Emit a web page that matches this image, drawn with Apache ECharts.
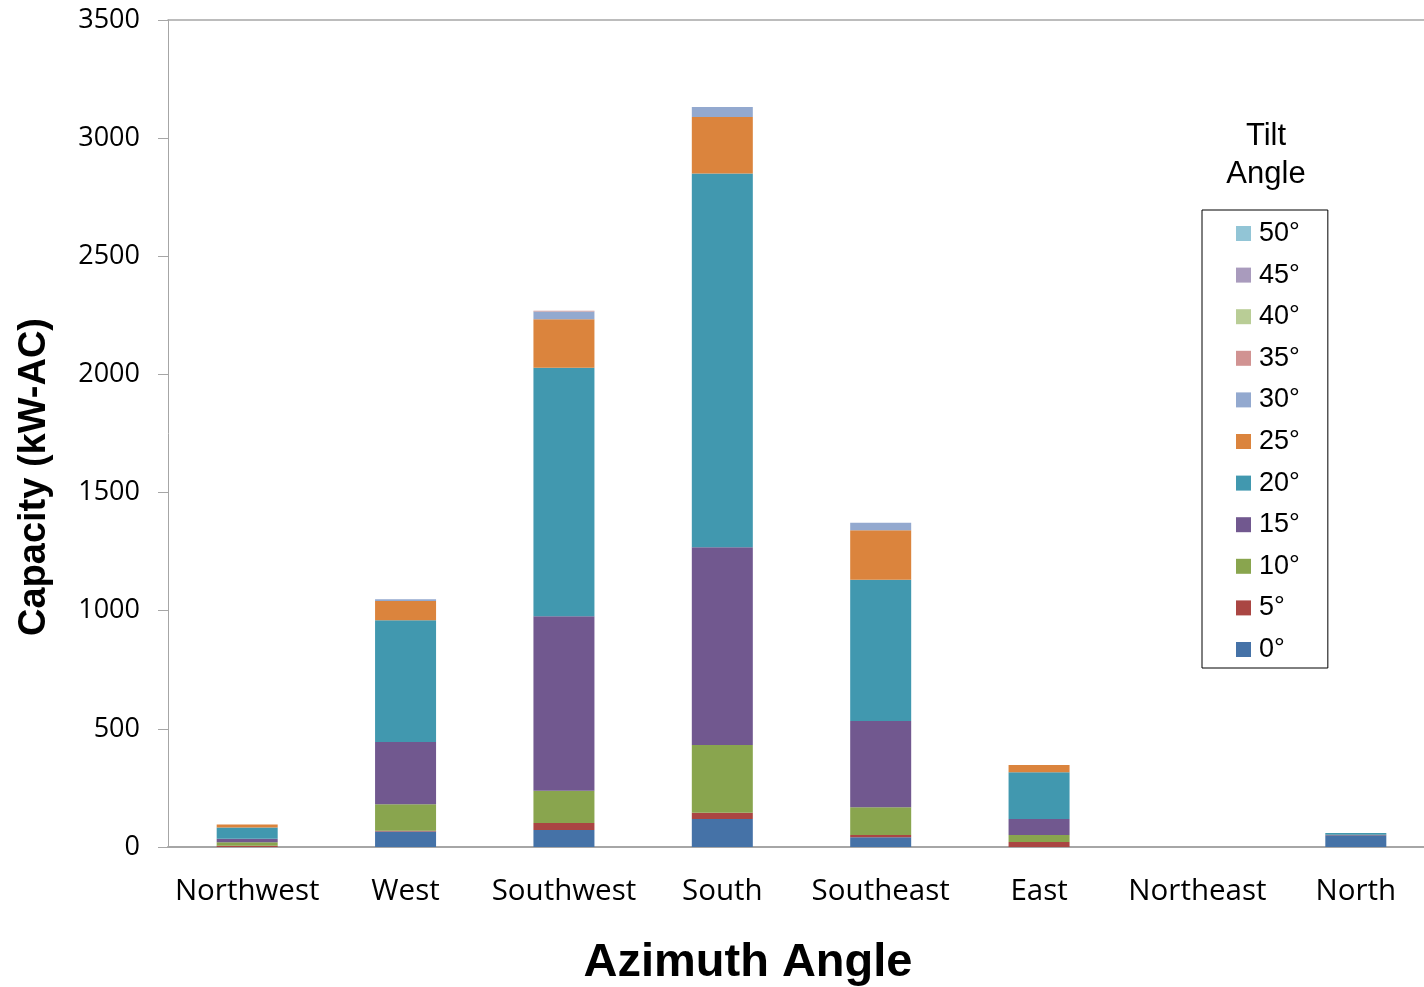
<!DOCTYPE html>
<html>
<head>
<meta charset="utf-8">
<title>Capacity by Azimuth and Tilt Angle</title>
<script src="https://cdn.jsdelivr.net/npm/echarts@6/dist/echarts.min.js"></script>
<style>
  html, body { margin: 0; padding: 0; background: #ffffff; overflow: hidden; }
  /* plot area runs slightly past the right edge of the window */
  #chart { width: 1435px; height: 987px; }
</style>
</head>
<body>
<div id="chart"></div>
<script>
// Azimuth categories along the x axis
const azimuths = ['Northwest', 'West', 'Southwest', 'South', 'Southeast', 'East', 'Northeast', 'North'];

// Capacity (kW-AC) per tilt angle, one value per azimuth
const tilt0  = [0, 66, 72, 118, 41, 0, 0, 50];
const tilt5  = [5, 3, 30, 27, 10, 21, 0, 2];
const tilt10 = [15, 112, 136, 287, 117, 30, 0, 0];
const tilt15 = [15, 263, 739, 837, 365, 67, 0, 0];
const tilt20 = [47, 516, 1051, 1581, 598, 198, 0, 7];
const tilt25 = [13, 81, 205, 239, 210, 31, 0, 0];
const tilt30 = [0, 8, 33, 43, 31, 0, 0, 0];
const tilt35 = [0, 0, 3, 0, 0, 0, 0, 0];
const tilt40 = [0, 0, 0, 0, 0, 0, 0, 0];
const tilt45 = [0, 0, 0, 0, 0, 0, 0, 0];
const tilt50 = [0, 0, 0, 0, 0, 0, 0, 0];

const tiltNames = ['0°', '5°', '10°', '15°', '20°', '25°', '30°', '35°', '40°', '45°', '50°'];
const tiltValues = [tilt0, tilt5, tilt10, tilt15, tilt20, tilt25, tilt30, tilt35, tilt40, tilt45, tilt50];
const tiltColors = ['#4572A7', '#AA4643', '#89A54E', '#71588F', '#4198AF', '#DB843D',
                    '#93A9CF', '#D19392', '#B9CD96', '#A99BBD', '#92C5D6'];

const yTicks = [0, 500, 1000, 1500, 2000, 2500, 3000, 3500];

const series = tiltNames.map((name, i) => ({
  name: name,
  type: 'bar',
  stack: 'capacity',
  barWidth: 61,
  data: tiltValues[i],
  itemStyle: { color: tiltColors[i] },
  emphasis: { disabled: true }
}));

const chart = echarts.init(document.getElementById('chart'), null, { renderer: 'canvas' });

chart.setOption({
  animation: false,
  backgroundColor: '#ffffff',
  grid: { left: 168, right: 0, top: 20, bottom: 140, containLabel: false },
  xAxis: [
    {
      type: 'category',
      data: azimuths,
      axisLine: { show: true, lineStyle: { color: '#a6a6a6', width: 2 } },
      axisTick: { show: false },
      axisLabel: {
        color: '#000000',
        fontFamily: 'Open Sans',
        fontSize: 29.5,
        margin: 30,
        interval: 0
      }
    },
    {
      // top border of the plot area
      type: 'category',
      position: 'top',
      data: azimuths,
      axisLine: { show: true, lineStyle: { color: '#a6a6a6', width: 1.5 } },
      axisTick: { show: false },
      axisLabel: { show: false }
    }
  ],
  yAxis: {
    type: 'value',
    min: yTicks[0],
    max: yTicks[yTicks.length - 1],
    interval: 500,
    axisLine: { show: true, lineStyle: { color: '#a6a6a6', width: 1 } },
    axisTick: { show: true, length: 10, lineStyle: { color: '#a6a6a6' } },
    splitLine: { show: false },
    axisLabel: {
      color: '#000000',
      fontFamily: 'Open Sans',
      fontSize: 27,
      margin: 28,
      formatter: (v) => String(v)
    }
  },
  legend: {
    orient: 'vertical',
    left: 1202,
    top: 210,
    data: tiltNames.slice().reverse(),
    icon: 'rect',
    itemWidth: 15,
    itemHeight: 15,
    itemGap: 14.6,
    padding: [10, 28, 5, 34],
    borderColor: '#000000',
    borderWidth: 1,
    selectedMode: false,
    textStyle: {
      color: '#000000',
      fontFamily: 'Liberation Sans',
      fontSize: 27,
      lineHeight: 26,
      padding: [0, 0, 0, 3]
    }
  },
  graphic: [
    {
      type: 'text',
      x: 35,
      y: 477,
      rotation: Math.PI / 2,
      style: {
        text: 'Capacity (kW-AC)',
        align: 'center',
        verticalAlign: 'middle',
        fill: '#000000',
        font: 'bold 38px "Liberation Sans", Arial, sans-serif'
      }
    },
    {
      type: 'text',
      x: 748,
      y: 963,
      style: {
        text: 'Azimuth Angle',
        align: 'center',
        verticalAlign: 'middle',
        fill: '#000000',
        font: 'bold 47px "Liberation Sans", Arial, sans-serif'
      }
    },
    {
      type: 'text',
      x: 1266,
      y: 155,
      style: {
        text: 'Tilt\nAngle',
        align: 'center',
        verticalAlign: 'middle',
        lineHeight: 38,
        fill: '#000000',
        font: '31px "Liberation Sans", Arial, sans-serif'
      }
    }
  ],
  series: series
});
</script>
</body>
</html>
